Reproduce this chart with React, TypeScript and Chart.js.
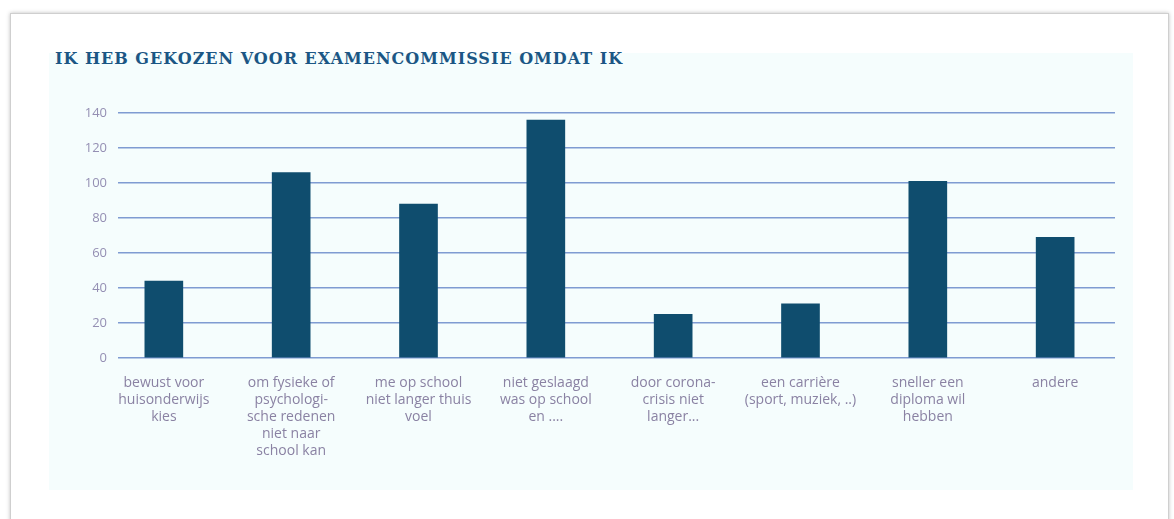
import React, { useEffect, useRef } from "react";
import { Chart, registerables } from "chart.js";

Chart.register(...registerables);

const title = "IK HEB GEKOZEN VOOR EXAMENCOMMISSIE OMDAT IK";
const categories: string[][] = [
  ["bewust voor", "huisonderwijs", "kies"],
  ["om fysieke of", "psychologi-", "sche redenen", "niet naar", "school kan"],
  ["me op school", "niet langer thuis", "voel"],
  ["niet geslaagd", "was op school", "en ...."],
  ["door corona-", "crisis niet", "langer..."],
  ["een carrière", "(sport, muziek, ..)"],
  ["sneller een", "diploma wil", "hebben"],
  ["andere"],
];
const values: number[] = [44, 106, 88, 136, 25, 31, 101, 69];
const yTicks: number[] = [0, 20, 40, 60, 80, 100, 120, 140];

export default function App() {
  const ref = useRef<HTMLCanvasElement | null>(null);
  useEffect(() => {
    if (!ref.current) return;
    const points = values.map((v, i) => ({ x: i, y: v }));
    const chart = new Chart(ref.current, {
      type: "bar",
      data: {
        datasets: [
          {
            data: points as any,
            backgroundColor: "#0f4d6e",
            borderWidth: 0,
            barThickness: 38,
          },
        ],
      },
      options: {
        animation: false,
        responsive: false,
        maintainAspectRatio: false,
        layout: { padding: { top: 23, right: 18, left: 0, bottom: 0 } },
        plugins: { legend: { display: false }, tooltip: { enabled: false } },
        scales: {
          x: {
            type: "linear",
            offset: false,
            min: -0.36,
            max: 7.47,
            afterBuildTicks: (s: any) => {
              s.ticks = categories.map((_, i) => ({ value: i }));
            },
            grid: { display: false, drawTicks: false, offset: false },
            border: { display: false },
            ticks: {
              color: "#8a82a3",
              font: { family: "'Open Sans', sans-serif", size: 14, lineHeight: 1.23 },
              padding: 16,
              maxRotation: 0,
              autoSkip: false,
              callback: (v: any) => categories[Math.round(Number(v))] ?? "",
            },
            afterFit: (s: any) => {
              s.height = 122;
            },
          },
          y: {
            min: 0,
            max: 140,
            afterBuildTicks: (s: any) => {
              s.ticks = yTicks.map((v) => ({ value: v }));
            },
            grid: { color: "#7f9bd2", lineWidth: 1.5, drawTicks: false },
            border: { display: false },
            ticks: {
              color: "#948fb3",
              font: { family: "'Open Sans', sans-serif", size: 13 },
              padding: 11,
            },
            afterFit: (s: any) => {
              s.width = 70;
            },
          },
        },
      },
    });
    return () => chart.destroy();
  }, []);

  return (
    <div style={{ position: "absolute", left: 0, top: 0, width: 1174, height: 519, background: "#ffffff", overflow: "hidden" }}>
      <div
        style={{
          position: "absolute",
          left: 10,
          top: 13,
          width: 1157,
          height: 520,
          border: "1px solid #cfcfcf",
          boxShadow: "0 0 4px rgba(0,0,0,0.25)",
          background: "#ffffff",
        }}
      />
      <div
        style={{
          position: "absolute",
          left: 49,
          top: 53,
          width: 1084,
          height: 437,
          background: "#f5fdfd",
        }}
      />
      <div
        style={{
          position: "absolute",
          left: 55,
          top: 49,
          fontFamily: "'DejaVu Serif', serif",
          fontWeight: "bold",
          fontSize: 16,
          letterSpacing: 1.0,
          color: "#1b5684",
          whiteSpace: "nowrap",
        }}
      >
        {title}
      </div>
      <canvas
        ref={ref}
        width={1085}
        height={390}
        style={{ position: "absolute", left: 48, top: 90, width: 1085, height: 390 }}
      />
    </div>
  );
}
